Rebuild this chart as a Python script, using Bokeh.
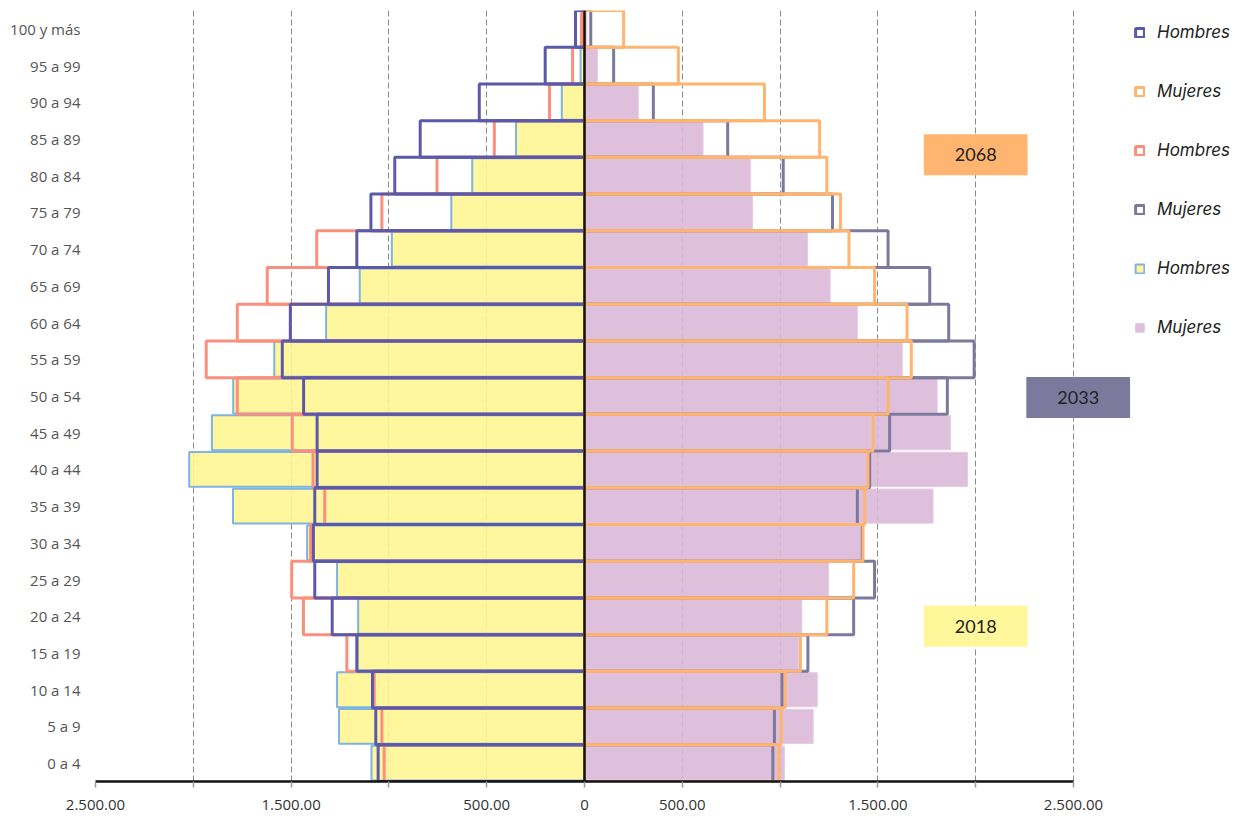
from bokeh.plotting import figure
from bokeh.models import Range1d, FixedTicker, Span, Label, Legend, LegendItem, ColumnDataSource
from bokeh.embed import file_html
from bokeh.resources import INLINE

grupos = ["0 a 4", "5 a 9", "10 a 14", "15 a 19", "20 a 24", "25 a 29", "30 a 34",
          "35 a 39", "40 a 44", "45 a 49", "50 a 54", "55 a 59", "60 a 64", "65 a 69",
          "70 a 74", "75 a 79", "80 a 84", "85 a 89", "90 a 94", "95 a 99", "100 y más"]

hombres_2018 = [1089, 1255, 1265, 1160, 1157, 1265, 1418, 1797, 2021, 1905, 1796,
                1586, 1321, 1149, 985, 681, 574, 350, 116, 20, 5]
mujeres_2018 = [1022, 1169, 1190, 1095, 1111, 1248, 1415, 1782, 1958, 1871, 1803,
                1625, 1395, 1256, 1140, 859, 848, 606, 275, 67, 12]
hombres_2033 = [1024, 1036, 1075, 1215, 1437, 1497, 1400, 1328, 1388, 1494, 1775,
                1934, 1775, 1622, 1369, 1036, 754, 461, 179, 61, 15]
mujeres_2033 = [963, 971, 1010, 1142, 1376, 1483, 1420, 1395, 1458, 1560, 1855,
                1992, 1862, 1765, 1552, 1268, 1016, 732, 352, 149, 32]
hombres_2068 = [1055, 1067, 1084, 1164, 1290, 1379, 1386, 1379, 1367, 1367, 1436,
                1545, 1504, 1309, 1164, 1092, 970, 840, 538, 201, 46]
mujeres_2068 = [993, 1005, 1026, 1104, 1239, 1376, 1424, 1432, 1449, 1475, 1552,
                1671, 1649, 1483, 1352, 1309, 1239, 1202, 920, 480, 200]

x_ticks = [-2500, -2000, -1500, -1000, -500, 0, 500, 1000, 1500, 2000, 2500]
x_tick_labels = ["2.500.00", "", "1.500.00", "", "500.00", "0", "500.00", "", "1.500.00", "", "2.500.00"]

anios = ["2068", "2033", "2018"]

ys = list(range(len(grupos)))

W, H = 1234, 813
BL, BT, BB = 95, 10, 32
frame_w = W - BL
x_end = -2500 + frame_w * 5000 / 978.0

p = figure(width=W, height=H, x_range=Range1d(-2500, x_end), y_range=Range1d(-0.5, 20.5),
           output_backend="svg", toolbar_location=None,
           min_border_left=BL, min_border_right=0, min_border_top=BT, min_border_bottom=BB)
p.outline_line_color = None
p.background_fill_color = "white"
p.border_fill_color = "white"

def src(vals, side):
    if side < 0:
        return ColumnDataSource(dict(y=ys, left=[-v for v in vals], right=[0] * len(vals)))
    return ColumnDataSource(dict(y=ys, left=[0] * len(vals), right=list(vals)))

# 2018 filled
r_h18 = p.hbar(y="y", left="left", right="right", height=0.95, source=src(hombres_2018, -1),
               fill_color="#fff58f", fill_alpha=0.88, line_color="#7db4e2", line_width=2)
r_m18 = p.hbar(y="y", left="left", right="right", height=0.93, source=src(mujeres_2018, 1),
               fill_color="#dbb9d8", fill_alpha=0.9, line_color="#e6cbe3", line_width=1)
# 2033 outlines
r_h33 = p.hbar(y="y", left="left", right="right", height=1.0, source=src(hombres_2033, -1),
               fill_color=None, line_color="#fa8f7d", line_width=3)
r_m33 = p.hbar(y="y", left="left", right="right", height=1.0, source=src(mujeres_2033, 1),
               fill_color=None, line_color="#7c7a9c", line_width=3)
# 2068 outlines
r_h68 = p.hbar(y="y", left="left", right="right", height=1.0, source=src(hombres_2068, -1),
               fill_color=None, line_color="#5c5aa8", line_width=3)
r_m68 = p.hbar(y="y", left="left", right="right", height=1.0, source=src(mujeres_2068, 1),
               fill_color=None, line_color="#ffb570", line_width=3)

p.add_layout(Span(location=0, dimension="height", line_color="#111111", line_width=2.5))

# axes
p.xaxis.ticker = FixedTicker(ticks=x_ticks)
p.xaxis.bounds = (-2500, 2500)
p.xaxis.major_label_overrides = {t: l for t, l in zip(x_ticks, x_tick_labels)}
p.xaxis.axis_line_color = "#111111"
p.xaxis.axis_line_width = 2.5
p.xaxis.major_tick_line_color = "#999999"
p.xaxis.major_tick_line_width = 1.5
p.xaxis.major_tick_in = 0
p.xaxis.major_tick_out = 6
p.xaxis.minor_tick_line_color = None
p.xaxis.major_label_text_font = "Open Sans"
p.xaxis.major_label_text_font_size = "15px"
p.xaxis.major_label_text_color = "#333333"
p.xaxis.major_label_standoff = 12

p.yaxis.ticker = FixedTicker(ticks=ys)
p.yaxis.major_label_overrides = {i: g for i, g in zip(ys, grupos)}
p.yaxis.axis_line_color = None
p.yaxis.major_tick_line_color = None
p.yaxis.minor_tick_line_color = None
p.yaxis.major_label_text_font = "Open Sans"
p.yaxis.major_label_text_font_size = "15px"
p.yaxis.major_label_text_color = "#555555"
p.yaxis.major_label_standoff = 9

p.xgrid.grid_line_color = "#8a8a8a"
p.xgrid.grid_line_dash = "6 3"
p.xgrid.grid_line_width = 1
p.ygrid.visible = False

# year labels
label_pos = [(2000, 16.57, "#ffb570"), (2524, 9.96, "#7c7a9c"), (2000, 3.73, "#fff799")]
for txt, (lx, ly, col) in zip(anios, label_pos):
    p.add_layout(Label(x=lx, y=ly, text=txt, text_align="center", text_baseline="middle",
                       background_fill_color=col, padding=(31, 14),
                       text_font="Lato", text_font_size="18px", text_color="#222222"))

legend = Legend(items=[
    LegendItem(label="Hombres", renderers=[r_h68]),
    LegendItem(label="Mujeres", renderers=[r_m68]),
    LegendItem(label="Hombres", renderers=[r_h33]),
    LegendItem(label="Mujeres", renderers=[r_m33]),
    LegendItem(label="Hombres", renderers=[r_h18]),
    LegendItem(label="Mujeres", renderers=[r_m18]),
], location=(1039, 444))
legend.margin = 0
legend.padding = 0
legend.border_line_color = None
legend.background_fill_alpha = 0
legend.glyph_width = 11
legend.glyph_height = 11
legend.label_height = 20
legend.spacing = 39
legend.label_standoff = 12
legend.label_text_font = "Inter"
legend.label_text_font_style = "italic"
legend.label_text_font_size = "17px"
legend.label_text_color = "#222222"
p.add_layout(legend, "center")

open("out.html", "w").write(file_html(p, INLINE))
